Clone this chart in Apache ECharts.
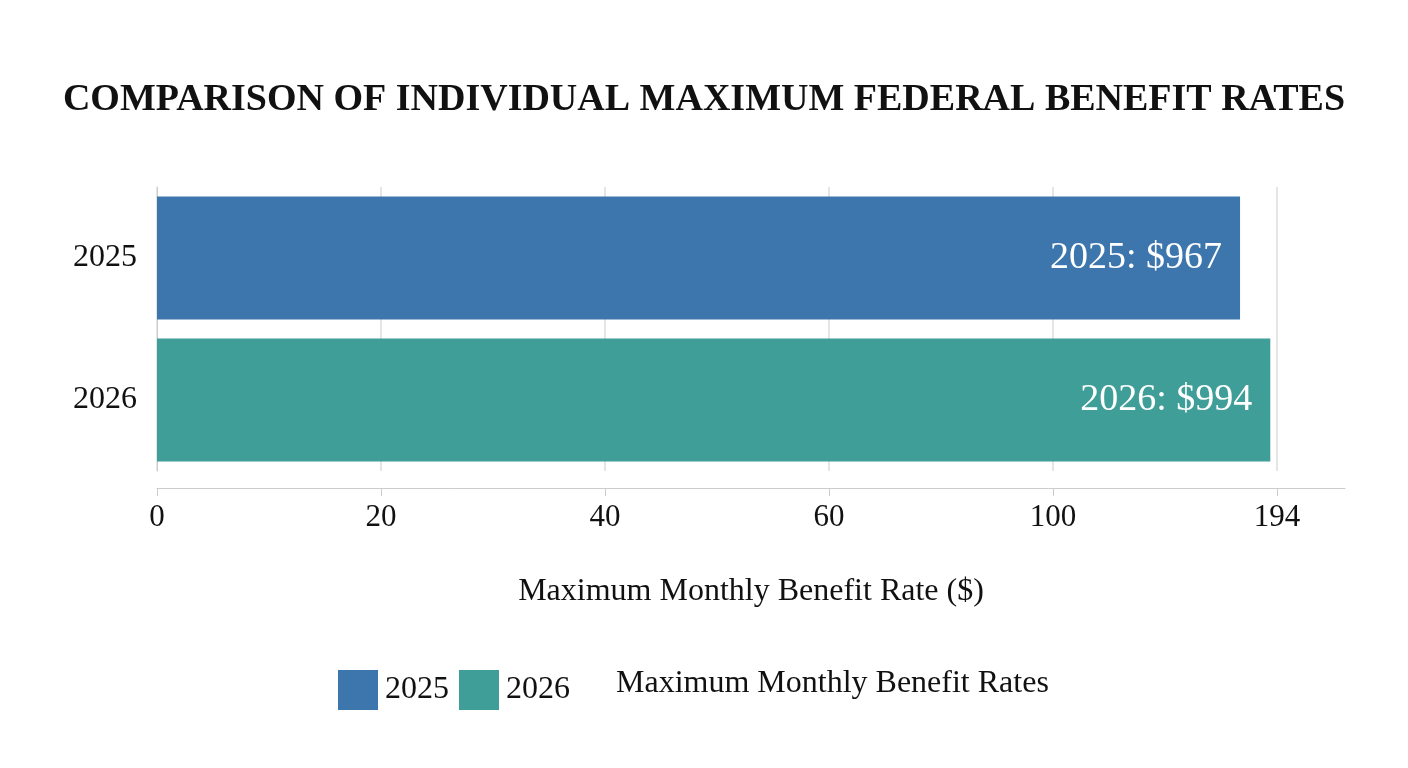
<!DOCTYPE html>
<html><head><meta charset="utf-8">
<script src="https://cdn.jsdelivr.net/npm/echarts@6/dist/echarts.min.js"></script>
<style>html,body{margin:0;padding:0;background:#fff}#c{width:1408px;height:768px}</style>
</head><body><div id="c"></div>
<script>
const categories = ['2025', '2026'];
const values2025 = [967, null];
const values2026 = [null, 994];
const tickLabels = ['0', '20', '40', '60', '100', '194'];
const seriesNames = ['2025', '2026'];
const font = '"Liberation Serif", "DejaVu Serif", serif';
const chart = echarts.init(document.getElementById('c'));
chart.setOption({
  backgroundColor: '#fff',
  title: { text: 'COMPARISON OF INDIVIDUAL MAXIMUM FEDERAL BENEFIT RATES', left: 'center', top: 76,
    textStyle: { fontFamily: font, fontSize: 38, fontWeight: 'bold', color: '#111' } },
  legend: { data: seriesNames, left: 333, top: 665, icon: 'rect', itemWidth: 40, itemHeight: 40, itemGap: 10,
    textStyle: { fontFamily: font, fontSize: 32, color: '#111', padding: [0, 0, 0, 2] } },
  graphic: [{ type: 'text', left: 616, top: 668, style: { text: 'Maximum Monthly Benefit Rates', font: '32px ' + font, fill: '#111' } }],
  grid: { left: 157, right: 63, top: 187, bottom: 297 },
  xAxis: { type: 'value', min: 0, max: 1060.7, interval: 200, offset: 17,
    name: 'Maximum Monthly Benefit Rate ($)', nameLocation: 'middle', nameGap: 88,
    nameTextStyle: { fontFamily: font, fontSize: 32, color: '#111' },
    axisLine: { show: true, lineStyle: { color: '#ccc' } }, axisTick: { show: true, length: 8, lineStyle: { color: '#ccc' } },
    axisLabel: { fontFamily: font, fontSize: 31, color: '#111', margin: 14, showMaxLabel: false,
      formatter: (v) => { const i = Math.round(v / 200); return v % 200 === 0 && i < tickLabels.length ? tickLabels[i] : ''; } },
    splitLine: { show: true, showMaxLine: false, lineStyle: { color: '#ddd', width: 1.5 } } },
  yAxis: { type: 'category', data: categories, inverse: true,
    axisLine: { show: true, lineStyle: { color: '#ccc' } }, axisTick: { show: false },
    axisLabel: { fontFamily: font, fontSize: 32, color: '#111', margin: 20 } },
  series: [
    { name: '2025', type: 'bar', data: values2025, barWidth: 123, barGap: '-100%', itemStyle: { color: '#3d76ad' },
      label: { show: true, position: 'insideRight', distance: 18, color: '#fff', fontFamily: font, fontSize: 38, formatter: p => '2025: $' + p.value } },
    { name: '2026', type: 'bar', data: values2026, barWidth: 123, itemStyle: { color: '#3f9e98' },
      label: { show: true, position: 'insideRight', distance: 18, color: '#fff', fontFamily: font, fontSize: 38, formatter: p => '2026: $' + p.value } }
  ]
});
</script></body></html>
